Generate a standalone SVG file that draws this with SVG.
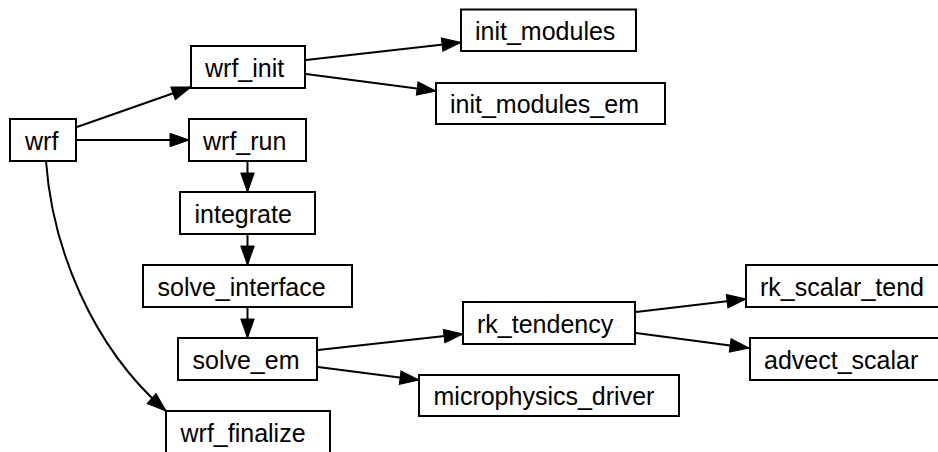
<svg xmlns="http://www.w3.org/2000/svg" width="938" height="452" viewBox="0 0 938 452">
  <style>
    .node rect { fill: #ffffff; stroke: #000000; stroke-width: 2; }
    .node text { font-family: "Liberation Sans", Arial, Helvetica, sans-serif; font-size: 25px; fill: #000000; }
    .edge { fill: none; stroke: #000000; stroke-width: 2; marker-end: url(#arrow); }
  </style>
  <defs>
    <marker id="arrow" markerUnits="userSpaceOnUse" markerWidth="22" markerHeight="16" refX="20" refY="7.75" orient="auto" viewBox="0 0 22 16">
      <path d="M1,1 L20,7.75 L1,14.5 Z" fill="#000000" stroke="#000000" stroke-width="1"/>
    </marker>
  </defs>
  <rect width="938" height="452" fill="#ffffff"/>

  <!-- call edges -->
  <g id="edges">
    <path class="edge" d="M77,127 L191,87"/>
    <path class="edge" d="M77,140 L189,140"/>
    <path class="edge" d="M46,161 C52,245 90,345 166,411"/>
    <path class="edge" d="M306,60 L461,42.5"/>
    <path class="edge" d="M306,74 L436,91"/>
    <path class="edge" d="M247.5,161 L247.5,192"/>
    <path class="edge" d="M247.5,234 L247.5,265"/>
    <path class="edge" d="M247.5,307 L247.5,338"/>
    <path class="edge" d="M318,350 L463,334"/>
    <path class="edge" d="M318,367 L419,380"/>
    <path class="edge" d="M636,312 L746,299"/>
    <path class="edge" d="M636,333 L749,348"/>
  </g>

  <!-- routines -->
  <g id="wrf" class="node"><rect x="10" y="119" width="66" height="42"/><text x="25" y="149.5">wrf</text></g>
  <g id="wrf_init" class="node"><rect x="191" y="46" width="114" height="42"/><text x="205" y="76.5">wrf_init</text></g>
  <g id="wrf_run" class="node"><rect x="189" y="119" width="117" height="42"/><text x="203" y="149.5">wrf_run</text></g>
  <g id="init_modules" class="node"><rect x="461" y="9.5" width="175" height="41.5"/><text x="475" y="39.5">init_modules</text></g>
  <g id="init_modules_em" class="node"><rect x="436" y="83" width="229" height="41"/><text x="450" y="113">init_modules_em</text></g>
  <g id="integrate" class="node"><rect x="180" y="192" width="135" height="42"/><text x="194.5" y="222.5">integrate</text></g>
  <g id="solve_interface" class="node"><rect x="143" y="265" width="209" height="42"/><text x="157.5" y="295.5">solve_interface</text></g>
  <g id="solve_em" class="node"><rect x="178" y="338" width="139" height="42"/><text x="192.5" y="368.5">solve_em</text></g>
  <g id="wrf_finalize" class="node"><rect x="166" y="411" width="164" height="50"/><text x="180.5" y="441.5">wrf_finalize</text></g>
  <g id="rk_tendency" class="node"><rect x="463" y="302" width="172" height="42"/><text x="477" y="332.5">rk_tendency</text></g>
  <g id="microphysics_driver" class="node"><rect x="419" y="375" width="260" height="41"/><text x="433.5" y="405">microphysics_driver</text></g>
  <g id="rk_scalar_tend" class="node"><rect x="746" y="265" width="212" height="42"/><text x="760" y="295.5">rk_scalar_tend</text></g>
  <g id="advect_scalar" class="node"><rect x="750" y="338" width="202" height="42"/><text x="764" y="368.5">advect_scalar</text></g>
</svg>
